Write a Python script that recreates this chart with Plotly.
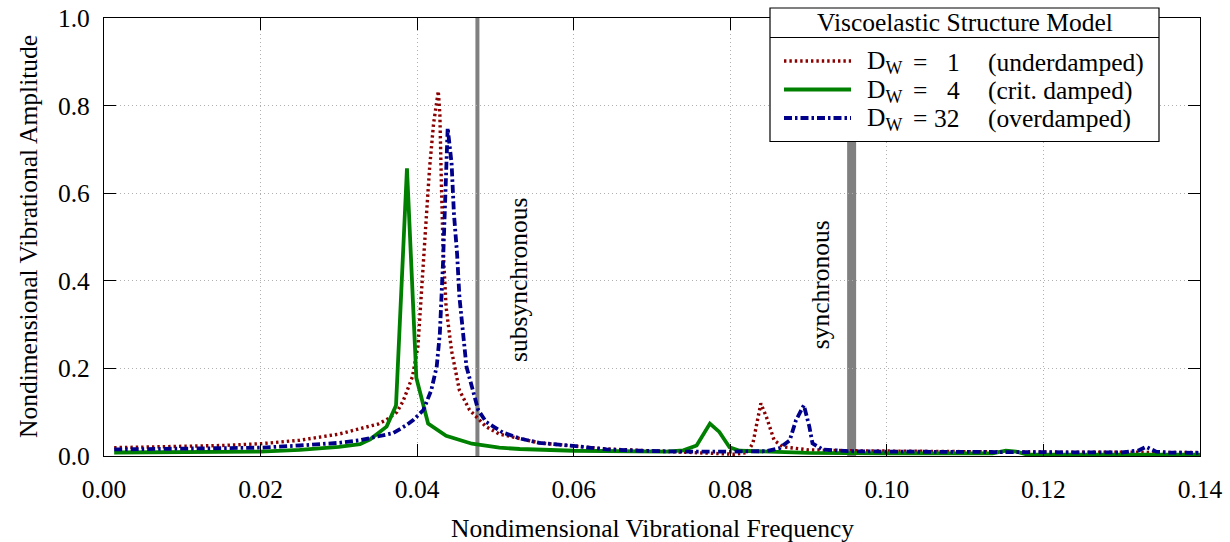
import plotly.graph_objects as go

# ---------------- data ----------------
freq_under = [0.0013, 0.005, 0.010, 0.015, 0.020, 0.025, 0.030, 0.0327, 0.035, 0.0361,
              0.0374, 0.0382, 0.0394, 0.0401, 0.0406, 0.0412, 0.0416, 0.0421, 0.0427, 0.0429,
              0.0431, 0.0433, 0.0437, 0.0444, 0.0454, 0.0467, 0.0488, 0.0505, 0.0531, 0.0556,
              0.060, 0.0642, 0.0684, 0.0735, 0.078, 0.0805, 0.0822, 0.0829, 0.0834, 0.0839,
              0.0846, 0.0856, 0.0867, 0.090, 0.095, 0.100, 0.110, 0.120, 0.130, 0.140]
amp_under = [0.019, 0.020, 0.021, 0.024, 0.028, 0.036, 0.050, 0.062, 0.073, 0.083,
             0.100, 0.125, 0.181, 0.250, 0.401, 0.553, 0.660, 0.759, 0.833, 0.781,
             0.620, 0.480, 0.340, 0.240, 0.150, 0.105, 0.067, 0.050, 0.040, 0.030,
             0.023, 0.016, 0.013, 0.010, 0.007, 0.004, 0.008, 0.030, 0.075, 0.120,
             0.090, 0.036, 0.021, 0.014, 0.012, 0.011, 0.010, 0.009, 0.008, 0.008]

freq_crit = [0.0013, 0.010, 0.020, 0.025, 0.030, 0.0327, 0.034, 0.0361, 0.0373, 0.0387,
             0.0399, 0.0414, 0.0437, 0.047, 0.0505, 0.0531, 0.060, 0.0718, 0.0740, 0.0757,
             0.0774, 0.0786, 0.0799, 0.0812, 0.090, 0.100, 0.110, 0.1135, 0.1152, 0.1165,
             0.118, 0.120, 0.130, 0.140]
amp_crit = [0.008, 0.008, 0.010, 0.014, 0.021, 0.027, 0.038, 0.067, 0.115, 0.657,
            0.178, 0.074, 0.046, 0.028, 0.019, 0.016, 0.012, 0.010, 0.013, 0.024,
            0.074, 0.055, 0.020, 0.012, 0.007, 0.006, 0.005, 0.006, 0.012, 0.010,
            0.003, 0.003, 0.003, 0.003]

freq_over = [0.0013, 0.010, 0.020, 0.025, 0.030, 0.0327, 0.035, 0.0369, 0.0386, 0.0395,
             0.0408, 0.0418, 0.0425, 0.0429, 0.0433, 0.0435, 0.0437, 0.0439, 0.0444, 0.0447,
             0.0451, 0.0454, 0.0463, 0.0471, 0.0478, 0.0488, 0.0509, 0.0531, 0.0556, 0.060,
             0.0642, 0.0684, 0.0735, 0.080, 0.0846, 0.0863, 0.0876, 0.0884, 0.0894, 0.0901,
             0.0905, 0.0918, 0.095, 0.100, 0.110, 0.120, 0.130, 0.1322, 0.1331, 0.1344,
             0.136, 0.140]
amp_over = [0.015, 0.016, 0.019, 0.024, 0.030, 0.036, 0.044, 0.052, 0.070, 0.082,
            0.105, 0.150, 0.204, 0.280, 0.439, 0.553, 0.660, 0.749, 0.668, 0.553,
            0.462, 0.363, 0.204, 0.150, 0.105, 0.078, 0.054, 0.040, 0.030, 0.023,
            0.015, 0.012, 0.010, 0.010, 0.011, 0.018, 0.036, 0.082, 0.116, 0.067,
            0.029, 0.015, 0.011, 0.010, 0.009, 0.009, 0.008, 0.013, 0.021, 0.010,
            0.008, 0.007]

ref_freqs = [0.0477, 0.0955]
ref_labels = ["subsynchronous", "synchronous"]

x_ticks = [0.00, 0.02, 0.04, 0.06, 0.08, 0.10, 0.12, 0.14]
y_ticks = [0.0, 0.2, 0.4, 0.6, 0.8, 1.0]

x_title = "Nondimensional Vibrational Frequency"
y_title = "Nondimensional Vibrational Amplitude"
legend_title = "Viscoelastic Structure Model"
legend_dw = ["1", "4", "32"]
legend_desc = ["(underdamped)", "(crit. damped)", "(overdamped)"]

# ---------------- styling ----------------
FONT = "Liberation Serif"
FS = 25.5
RED = "#8b0000"
GREEN = "#008000"
BLUE = "#00008b"
GRAY = "#808080"

W, H = 1230, 542
L, R, T, B = 104, 1200, 18, 456  # plot-area pixel box


def px(xp):
    return (xp - L) / (R - L)


def py(yp):
    return (B - yp) / (B - T)


def tfont(size=FS):
    return dict(family=FONT, size=size, color="black")


fig = go.Figure()
series = [
    (freq_under, amp_under, RED, 3.4, "2.4px,3px"),
    (freq_crit, amp_crit, GREEN, 3.8, "solid"),
    (freq_over, amp_over, BLUE, 3.8, "8px,3px,2.5px,3px"),
]
for (xs, ys, col, lw, dash), d, desc in zip(series, legend_dw, legend_desc):
    fig.add_trace(go.Scatter(x=xs, y=ys, mode="lines",
                             line=dict(color=col, width=lw, dash=dash),
                             name=f"D_W = {d} {desc}", showlegend=False))

shapes = []
annotations = []
# reference frequency lines
for f, w in zip(ref_freqs, [4, 9]):
    shapes.append(dict(type="line", xref="x", yref="paper", x0=f, x1=f, y0=0, y1=1,
                       line=dict(color=GRAY, width=w), layer="between"))
annotations.append(dict(xref="x", yref="paper", x=ref_freqs[0], y=py(280),
                        text=ref_labels[0], textangle=-90, showarrow=False,
                        xanchor="left", yanchor="middle", xshift=24,
                        font=tfont()))
annotations.append(dict(xref="x", yref="paper", x=ref_freqs[1], y=py(285),
                        text=ref_labels[1], textangle=-90, showarrow=False,
                        xanchor="right", yanchor="middle", xshift=-15,
                        font=tfont()))

# axis titles
annotations.append(dict(xref="paper", yref="paper", x=0.5, y=py(528), text=x_title,
                        showarrow=False, xanchor="center", yanchor="middle", font=tfont()))
annotations.append(dict(xref="paper", yref="paper", x=px(28), y=py(237), text=y_title,
                        textangle=-90, showarrow=False, xanchor="center", yanchor="middle",
                        font=tfont()))

# legend box (manual, matching the boxed title style)
LX0, LX1, LY0, LY1, LYS = 770, 1159, 8, 141.5, 37.5
shapes.append(dict(type="rect", xref="paper", yref="paper", x0=px(LX0), x1=px(LX1),
                   y0=py(LY1), y1=py(LY0), fillcolor="white",
                   line=dict(color="black", width=1.2), layer="above"))
shapes.append(dict(type="line", xref="paper", yref="paper", x0=px(LX0), x1=px(LX1),
                   y0=py(LYS), y1=py(LYS), line=dict(color="black", width=1.2), layer="above"))
annotations.append(dict(xref="paper", yref="paper", x=px((LX0 + LX1) / 2), y=py(23),
                        text=legend_title, showarrow=False, xanchor="center", yanchor="middle",
                        font=tfont()))
row_y = [61, 89.5, 118]
for (xs, ys, col, lw, dash), d, desc, ry in zip(series, legend_dw, legend_desc, row_y):
    shapes.append(dict(type="line", xref="paper", yref="paper", x0=px(784), x1=px(851),
                       y0=py(ry), y1=py(ry), line=dict(color=col, width=lw, dash=dash),
                       layer="above"))
    annotations.append(dict(xref="paper", yref="paper", x=px(865), y=py(ry + 1),
                            text="D<sub>W</sub>", showarrow=False, xanchor="left",
                            yanchor="middle", font=tfont()))
    annotations.append(dict(xref="paper", yref="paper", x=px(920), y=py(ry + 1),
                            text="=", showarrow=False, xanchor="center",
                            yanchor="middle", font=tfont()))
    annotations.append(dict(xref="paper", yref="paper", x=px(962), y=py(ry + 1),
                            text=d, showarrow=False, xanchor="right",
                            yanchor="middle", font=tfont()))
    annotations.append(dict(xref="paper", yref="paper", x=px(986), y=py(ry + 1),
                            text=desc, showarrow=False, xanchor="left",
                            yanchor="middle", font=tfont()))

axis_common = dict(showline=True, linecolor="black", linewidth=1.3, mirror="ticks",
                   ticks="inside", ticklen=12, tickwidth=1.2, tickcolor="black",
                   showgrid=True, gridcolor="#b0b0b0", gridwidth=1, griddash="1px,3px",
                   zeroline=False, automargin=False,
                   tickfont=tfont())

fig.update_layout(
    width=W, height=H,
    margin=dict(l=L, r=W - R, t=T, b=H - B, pad=0, autoexpand=False),
    paper_bgcolor="white", plot_bgcolor="white",
    font=tfont(),
    showlegend=False,
    xaxis=dict(range=[0, 0.14], tickvals=x_ticks,
               ticktext=[f"{v:.2f}" for v in x_ticks],
               ticklabelstandoff=10,
               **axis_common),
    yaxis=dict(range=[0, 1.0], tickvals=y_ticks,
               ticktext=[f"{v:.1f}" for v in y_ticks],
               ticklabelstandoff=8,
               **axis_common),
    shapes=shapes,
    annotations=annotations,
)

fig.write_html("out.html")
